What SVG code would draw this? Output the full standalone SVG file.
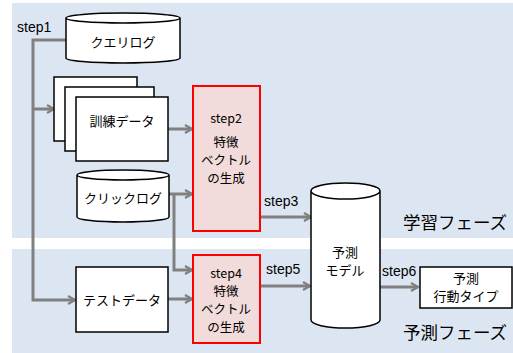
<svg xmlns="http://www.w3.org/2000/svg" width="513" height="353" viewBox="0 0 513 353">
<defs>
<style>
.t{font-family:"Noto Sans CJK JP","Liberation Sans",sans-serif;font-size:13px;fill:#000;text-anchor:middle}
.b{font-size:12.5px}
.s{font-family:"Liberation Sans","Noto Sans CJK JP",sans-serif;font-size:14px;fill:#000}
.ph{font-family:"Noto Sans CJK JP",sans-serif;font-size:17.5px;fill:#000;text-anchor:middle}
.n{fill:#fff;stroke:#000;stroke-width:1.5}
.r{fill:#f2dcdb;stroke:#ff0000;stroke-width:2}
.c{fill:none;stroke:#808080;stroke-width:3}
</style>
<marker id="a" viewBox="0 0 10 10" refX="9" refY="5" markerWidth="10" markerHeight="10" markerUnits="userSpaceOnUse" orient="auto">
<polyline points="2,1 9,5 2,9" fill="none" stroke="#808080" stroke-width="2.2"/>
</marker>
</defs>
<rect width="513" height="353" fill="#fff"/>
<rect x="12" y="3" width="501" height="235" fill="#dce6f2"/>
<rect x="12" y="249" width="501" height="104" fill="#dce6f2"/>
<text class="ph" x="455" y="229">学習フェーズ</text>
<text class="ph" x="455" y="339">予測フェーズ</text>
<g id="connectors">
<polyline class="c" points="66,40 33,40 33,300 75,300" marker-end="url(#a)"/>
<line class="c" x1="33" y1="109" x2="54" y2="109" marker-end="url(#a)"/>
<line class="c" x1="168" y1="129" x2="192" y2="129" marker-end="url(#a)"/>
<line class="c" x1="169" y1="194" x2="192" y2="194" marker-end="url(#a)"/>
<polyline class="c" points="174,194 174,270 192,270" marker-end="url(#a)"/>
<line class="c" x1="168" y1="299" x2="192" y2="299" marker-end="url(#a)"/>
<line class="c" x1="261" y1="217" x2="311" y2="217" marker-end="url(#a)"/>
<line class="c" x1="261" y1="286" x2="310" y2="286" marker-end="url(#a)"/>
<line class="c" x1="380" y1="287" x2="418" y2="287" marker-end="url(#a)"/>
<text class="s" x="17" y="32">step1</text>
<text class="s" x="264" y="206">step3</text>
<text class="s" x="266" y="274">step5</text>
<text class="s" x="382" y="276">step6</text>
</g>
<g id="query-log">
<path class="n" d="M66,18 L66,58 A57,5 0 0 0 180,58 L180,18 A57,5 0 0 0 66,18 A57,5 0 0 0 180,18"/>
<text class="t" x="123" y="47">クエリログ</text>
</g>
<g id="training-data">
<rect class="n" x="54" y="77" width="83" height="64"/>
<rect class="n" x="65" y="87" width="89" height="64"/>
<rect class="n" x="76" y="97" width="92" height="64"/>
<text class="t" x="122" y="126">訓練データ</text>
</g>
<g id="click-log">
<path class="n" d="M77,175 L77,217 A46,5 0 0 0 169,217 L169,175 A46,5 0 0 0 77,175 A46,5 0 0 0 169,175"/>
<text class="t" x="123" y="203">クリックログ</text>
</g>
<g id="step2">
<rect class="r" x="193" y="86" width="67" height="145"/>
<text class="t b" x="226" y="123">step2</text>
<text class="t b" x="226" y="147">特徴</text>
<text class="t b" x="226" y="165">ベクトル</text>
<text class="t b" x="226" y="183">の生成</text>
</g>
<g id="test-data">
<rect class="n" x="76" y="267" width="92" height="65"/>
<text class="t" x="122" y="305">テストデータ</text>
</g>
<g id="step4">
<rect class="r" x="193" y="255" width="67" height="88"/>
<text class="t b" x="226" y="278">step4</text>
<text class="t b" x="226" y="296">特徴</text>
<text class="t b" x="226" y="314">ベクトル</text>
<text class="t b" x="226" y="332">の生成</text>
</g>
<g id="model">
<path class="n" d="M311,191 L311,320 A34.5,8 0 0 0 380,320 L380,191 A34.5,8 0 0 0 311,191 A34.5,8 0 0 0 380,191"/>
<text class="t" x="345" y="257">予測</text>
<text class="t" x="345" y="275">モデル</text>
</g>
<g id="predicted-type">
<rect class="n" x="420" y="267" width="92" height="41"/>
<text class="t" x="466" y="283">予測</text>
<text class="t" x="466" y="301">行動タイプ</text>
</g>
</svg>
